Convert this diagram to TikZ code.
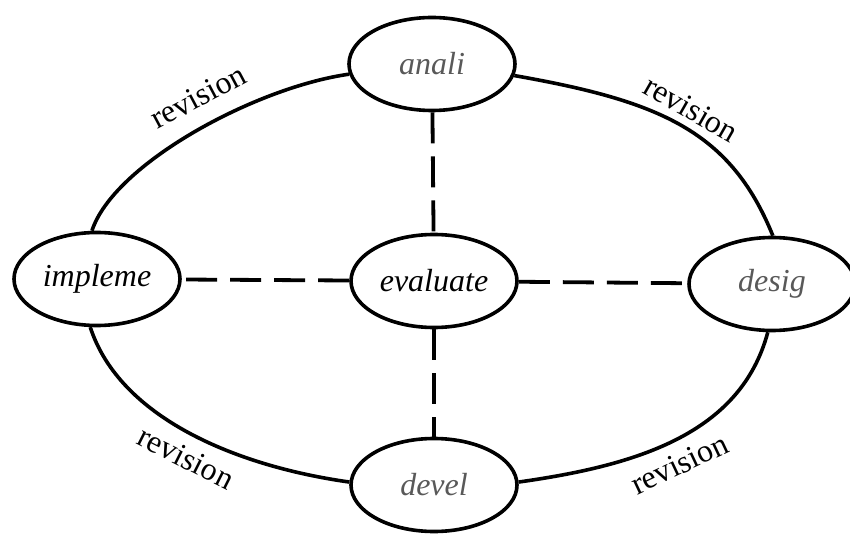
\documentclass[tikz,border=0pt]{standalone}
\usepackage{fontspec}
\setmainfont{LiberationSerif}[Extension=.ttf,UprightFont=*-Regular,ItalicFont=*-Italic,BoldFont=*-Bold,BoldItalicFont=*-BoldItalic]
\usetikzlibrary{shapes.geometric}
\definecolor{txtgray}{HTML}{595959}
\begin{document}
\begin{tikzpicture}[x=0.5pt,y=0.5pt,
  stage/.style={ellipse, draw, line width=1.8pt, minimum width=83pt, minimum height=46.5pt,
    inner sep=0pt, fill=white, font=\rmfamily\fontsize{16}{19}\selectfont\itshape},
  cyc/.style={line width=1.8pt},
  link/.style={line width=1.9pt, dash pattern=on 15.5pt off 6.5pt},
  lbl/.style={font=\rmfamily\fontsize{16}{19}\selectfont, sloped}]
\useasboundingbox (0,0) rectangle (850,536);
\node[stage] (analii) at (432,472) {\textcolor{txtgray}{anali}};
\node[stage] (evaluate) at (434,255) {evaluate};
\node[stage] (impleme) at (97,257) {impleme};
\node[stage] (desig) at (772,252) {\textcolor{txtgray}{desig}};
\node[stage] (devel) at (434,51) {\textcolor{txtgray}{devel}};
\draw[link] (analii) -- (evaluate);
\draw[link] (evaluate) -- (impleme);
\draw[link] (evaluate) -- (desig);
\draw[link] (evaluate) -- (devel);
\draw[cyc] (impleme.96) to[out=72,in=188,out distance=35pt,in distance=47.5pt]
  node[lbl,pos=0.56,above=5pt] (r1) {revision} (analii.187);
\draw[cyc] (analii.352) to[out=-10,in=112,out distance=73pt,in distance=57pt]
  node[lbl,pos=0.5,above] (r2) {revision} (desig.89);
\draw[cyc] (impleme.262) to[out=-72,in=172,out distance=47.5pt,in distance=57.5pt]
  node[lbl,pos=0.53,below=2pt] (r3) {revision} (devel.178);
\draw[cyc] (devel.2) to[out=8,in=255,out distance=60pt,in distance=52.5pt]
  node[lbl,pos=0.47,below=2pt] (r4) {revision} (desig.265);
\end{tikzpicture}
\end{document}
